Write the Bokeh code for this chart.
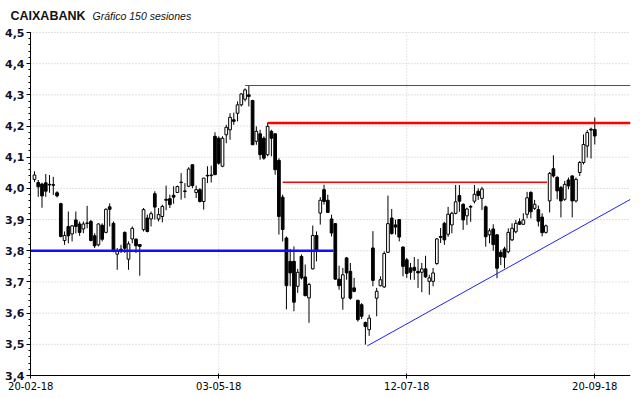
from bokeh.plotting import figure
from bokeh.models import (ColumnDataSource, Range1d, FixedTicker, CustomJSTickFormatter, Label)
from bokeh.embed import file_html
from bokeh.resources import INLINE

# ---------------- data ----------------
title_main = "CAIXABANK"
title_sub = "Gráfico 150 sesiones"

x_tick_pos = [-1, 49, 99, 149]
x_tick_labels = ["20-02-18", "03-05-18", "12-07-18", "20-09-18"]
y_min, y_max = 3.4, 4.5
x_start, x_end = -1.06, 158.5

open_ = [4.029, 4.019, 4.014, 4.018, 4.013, 4.012, 3.986, 3.951, 3.833, 3.878,
         3.854, 3.899, 3.886, 3.870, 3.889, 3.894, 3.848, 3.819, 3.882, 3.859,
         3.941, 3.888, 3.789, 3.805, 3.859, 3.773, 3.838, 3.837, 3.820, 3.868,
         3.905, 3.902, 3.983, 3.902, 3.910, 3.965, 3.967, 3.978, 3.987, 4.020,
         3.990, 4.007, 4.076, 3.987, 3.996, 3.958, 4.042, 4.041, 4.167, 4.161,
         4.071, 4.172, 4.188, 4.220, 4.241, 4.268, 4.286, 4.300, 4.282, 4.151,
         4.175, 4.161, 4.108, 4.183, 4.175, 4.090, 3.972, 3.841, 3.766, 3.766,
         3.686, 3.782, 3.716, 3.649, 3.742, 3.849, 3.921, 3.996, 3.962, 3.902,
         3.887, 3.709, 3.648, 3.777, 3.734, 3.681, 3.641, 3.627, 3.570, 3.547,
         3.809, 3.648, 3.688, 3.684, 3.795, 3.905, 3.883, 3.900, 3.812, 3.771,
         3.745, 3.747, 3.734, 3.731, 3.742, 3.702, 3.702, 3.759, 3.846, 3.888,
         3.853, 3.883, 3.920, 3.977, 3.949, 3.912, 3.942, 3.959, 3.991, 3.968,
         3.941, 3.851, 3.870, 3.851, 3.795, 3.806, 3.797, 3.835, 3.861, 3.893,
         3.885, 3.917, 3.987, 3.936, 3.932, 3.908, 3.859, 3.960, 4.063, 4.035,
         4.003, 3.965, 4.027, 4.040, 3.960, 4.051, 4.083, 4.136, 4.190, 4.189]
high = [4.055, 4.027, 4.018, 4.046, 4.043, 4.037, 3.991, 3.954, 3.862, 3.926,
        3.883, 3.926, 3.894, 3.894, 3.944, 3.899, 3.856, 3.888, 3.888, 3.936,
        3.952, 3.894, 3.809, 3.819, 3.862, 3.830, 3.878, 3.840, 3.822, 3.937,
        3.916, 3.926, 3.991, 3.937, 3.948, 4.009, 3.980, 4.007, 4.009, 4.049,
        4.017, 4.068, 4.076, 4.009, 4.001, 4.033, 4.071, 4.073, 4.180, 4.167,
        4.167, 4.204, 4.241, 4.243, 4.279, 4.305, 4.321, 4.331, 4.284, 4.199,
        4.188, 4.167, 4.211, 4.188, 4.177, 4.097, 3.980, 3.846, 3.806, 3.814,
        3.742, 3.788, 3.756, 3.697, 3.881, 3.862, 3.972, 4.012, 3.980, 3.916,
        3.889, 3.752, 3.745, 3.780, 3.761, 3.713, 3.643, 3.632, 3.573, 3.595,
        3.863, 3.681, 3.718, 3.798, 3.977, 3.934, 3.900, 3.900, 3.814, 3.777,
        3.761, 3.780, 3.774, 3.761, 3.784, 3.723, 3.745, 3.841, 3.873, 3.893,
        3.941, 3.925, 4.011, 4.011, 3.952, 3.938, 3.947, 4.011, 4.000, 4.005,
        3.945, 3.872, 3.885, 3.853, 3.803, 3.813, 3.872, 3.888, 3.899, 3.904,
        3.920, 3.989, 3.991, 3.963, 3.945, 3.920, 3.884, 4.053, 4.106, 4.040,
        4.008, 4.024, 4.035, 4.042, 4.035, 4.088, 4.173, 4.187, 4.195, 4.227]
low = [4.021, 3.973, 3.938, 3.973, 3.986, 3.979, 3.971, 3.843, 3.819, 3.824,
       3.830, 3.856, 3.848, 3.856, 3.872, 3.830, 3.809, 3.814, 3.830, 3.856,
       3.878, 3.795, 3.739, 3.793, 3.793, 3.739, 3.824, 3.793, 3.720, 3.862,
       3.859, 3.878, 3.900, 3.894, 3.891, 3.930, 3.937, 3.951, 3.985, 3.964,
       3.969, 4.004, 4.001, 3.969, 3.955, 3.932, 4.017, 4.019, 4.044, 4.076,
       4.068, 4.145, 4.156, 4.204, 4.215, 4.263, 4.279, 4.263, 4.140, 4.140,
       4.092, 4.092, 4.103, 4.103, 4.044, 3.852, 3.830, 3.612, 3.686, 3.606,
       3.665, 3.708, 3.654, 3.569, 3.740, 3.766, 3.884, 3.948, 3.921, 3.846,
       3.707, 3.675, 3.611, 3.707, 3.643, 3.667, 3.573, 3.581, 3.499, 3.527,
       3.686, 3.590, 3.686, 3.681, 3.793, 3.852, 3.852, 3.830, 3.718, 3.713,
       3.707, 3.707, 3.681, 3.667, 3.713, 3.659, 3.686, 3.755, 3.825, 3.819,
       3.845, 3.856, 3.917, 3.925, 3.867, 3.883, 3.893, 3.952, 3.963, 3.931,
       3.813, 3.824, 3.800, 3.712, 3.754, 3.744, 3.792, 3.831, 3.856, 3.883,
       3.883, 3.904, 3.904, 3.931, 3.878, 3.846, 3.855, 3.923, 4.035, 3.965,
       3.907, 3.960, 3.997, 3.907, 3.955, 4.040, 4.077, 4.099, 4.096, 4.141]
close = [4.043, 4.005, 3.976, 3.991, 4.011, 4.010, 3.976, 3.846, 3.849, 3.848,
         3.880, 3.878, 3.859, 3.886, 3.888, 3.833, 3.816, 3.886, 3.837, 3.933,
         3.933, 3.798, 3.800, 3.798, 3.808, 3.822, 3.872, 3.816, 3.814, 3.932,
         3.862, 3.919, 3.940, 3.916, 3.942, 3.962, 3.948, 3.972, 4.006, 4.019,
         3.992, 4.062, 4.009, 3.996, 3.958, 4.033, 4.040, 4.043, 4.044, 4.081,
         4.161, 4.196, 4.228, 4.215, 4.268, 4.303, 4.316, 4.295, 4.140, 4.183,
         4.108, 4.097, 4.199, 4.161, 4.060, 3.910, 3.868, 3.688, 3.729, 3.635,
         3.731, 3.713, 3.656, 3.692, 3.849, 3.798, 3.962, 3.958, 3.923, 3.857,
         3.709, 3.688, 3.723, 3.729, 3.648, 3.670, 3.579, 3.590, 3.557, 3.584,
         3.705, 3.670, 3.707, 3.791, 3.887, 3.855, 3.876, 3.844, 3.750, 3.727,
         3.731, 3.737, 3.729, 3.742, 3.716, 3.713, 3.729, 3.838, 3.843, 3.835,
         3.917, 3.920, 3.957, 3.959, 3.899, 3.934, 3.940, 3.981, 3.977, 3.998,
         3.845, 3.864, 3.820, 3.744, 3.781, 3.779, 3.859, 3.872, 3.888, 3.885,
         3.899, 3.970, 3.925, 3.949, 3.895, 3.858, 3.880, 4.048, 4.040, 3.992,
         3.960, 4.013, 4.008, 3.960, 4.029, 4.083, 4.141, 4.179, 4.187, 4.168]

# drawn levels: (value, start session, end session)
support_level = [3.80, -1.06, 79.5]
top_level = [4.33, 56.0, 158.5]
resist_level = [4.21, 62.0, 158.5]
mid_level = [4.02, 66.0, 136.3]
trend_line = [(88.5, 3.495), (158.5, 3.965)]

# ---------------- geometry ----------------
W, H = 640, 398
AXIS_X, RIGHT, AXIS_Y, TOP_PAD = 30, 10, 375, 32
px_x = (W - RIGHT - AXIS_X) / (x_end - x_start)
px_y = (AXIS_Y - TOP_PAD) / (y_max - y_min)
x_lo = x_start - AXIS_X / px_x
y_lo = y_min - (H - AXIS_Y) / px_y
y_top = y_max + TOP_PAD / px_y

n = len(open_)
idx = list(range(n))
up = [c >= o for o, c in zip(open_, close)]
src = ColumnDataSource(dict(
    x=idx, o=open_, h=high, l=low, c=close,
    top=[max(o, c) for o, c in zip(open_, close)],
    bot=[min(o, c) for o, c in zip(open_, close)],
    fill=["white" if u else "black" for u in up],
))

p = figure(width=W, height=H, output_backend="svg", toolbar_location=None,
           x_range=Range1d(x_lo, x_end), y_range=Range1d(y_lo, y_top),
           min_border_left=0, min_border_right=RIGHT, min_border_top=0,
           min_border_bottom=0)
p.outline_line_color = None
p.background_fill_color = "white"
p.border_fill_color = "white"

# grid (dotted, limited to the plotting area)
y_ticks = [round(y_min + 0.1 * k, 1) for k in range(12)]
p.xgrid.visible = False
p.ygrid.visible = False
p.segment(x0=[x_start] * 11, y0=y_ticks[1:], x1=[x_end] * 11, y1=y_ticks[1:],
          line_color="#c4c4c4", line_dash="1 2", line_width=1)
p.segment(x0=x_tick_pos, y0=[y_min] * len(x_tick_pos), x1=x_tick_pos,
          y1=[y_max] * len(x_tick_pos), line_color="#d0c4d0", line_dash="1 2",
          line_width=1)

# axes
p.yaxis.fixed_location = x_start
p.yaxis.bounds = (y_min, y_max)
p.yaxis.ticker = FixedTicker(ticks=y_ticks,
                             minor_ticks=[round(y_min + 0.02 * k, 2) for k in range(56)])
p.yaxis.formatter = CustomJSTickFormatter(code="return tick.toFixed(1).replace('.', ',');")
p.yaxis.major_label_text_font = "DejaVu Sans"
p.yaxis.major_label_text_font_style = "bold"
p.yaxis.major_label_text_font_size = "11px"
p.yaxis.major_label_text_color = "#10102e"
p.yaxis.major_label_standoff = 2
p.yaxis.major_tick_out = 4
p.yaxis.major_tick_in = 0
p.yaxis.minor_tick_out = 2
p.yaxis.minor_tick_in = 0
p.yaxis.axis_line_color = "black"

p.xaxis.fixed_location = y_min
p.xaxis.bounds = (x_start, x_end)
p.xaxis.ticker = FixedTicker(ticks=x_tick_pos)
p.xaxis.major_label_overrides = {t: s for t, s in zip(x_tick_pos, x_tick_labels)}
p.xaxis.major_label_text_font = "DejaVu Sans"
p.xaxis.major_label_text_font_size = "10px"
p.xaxis.major_label_text_color = "black"
p.xaxis.major_label_standoff = 3
p.xaxis.major_tick_out = 3
p.xaxis.major_tick_in = 2
p.xaxis.minor_tick_line_color = None
p.xaxis.axis_line_color = "black"

# candles
p.segment(x0="x", y0="h", x1="x", y1="l", source=src, line_color="black", line_width=1)
p.vbar(x="x", width=0.72, top="top", bottom="bot", source=src,
       fill_color="fill", line_color="black", line_width=1)

# levels
p.line([support_level[1], support_level[2]], [support_level[0]] * 2,
       line_color="#1010ff", line_width=2.5)
p.line([top_level[1], top_level[2]], [top_level[0]] * 2,
       line_color="#505050", line_width=1)
p.line([resist_level[1], resist_level[2]], [resist_level[0]] * 2,
       line_color="#ff0000", line_width=2.5)
p.line([mid_level[1], mid_level[2]], [mid_level[0]] * 2,
       line_color="#ff0000", line_width=1.5)
p.line([pt[0] for pt in trend_line], [pt[1] for pt in trend_line],
       line_color="#2020ff", line_width=1)

# titles
title_y = y_top - 15 / px_y
p.add_layout(Label(x=x_lo + 10 / px_x, y=title_y, text=title_main,
                   text_font="Liberation Sans", text_font_style="bold",
                   text_font_size="12.5px", text_color="#111111",
                   text_baseline="alphabetic"))
p.add_layout(Label(x=x_lo + 92 / px_x, y=title_y, text=title_sub,
                   text_font="Liberation Sans", text_font_style="italic",
                   text_font_size="10.5px", text_color="#111111",
                   text_baseline="alphabetic"))

open("out.html", "w").write(file_html(p, INLINE))
